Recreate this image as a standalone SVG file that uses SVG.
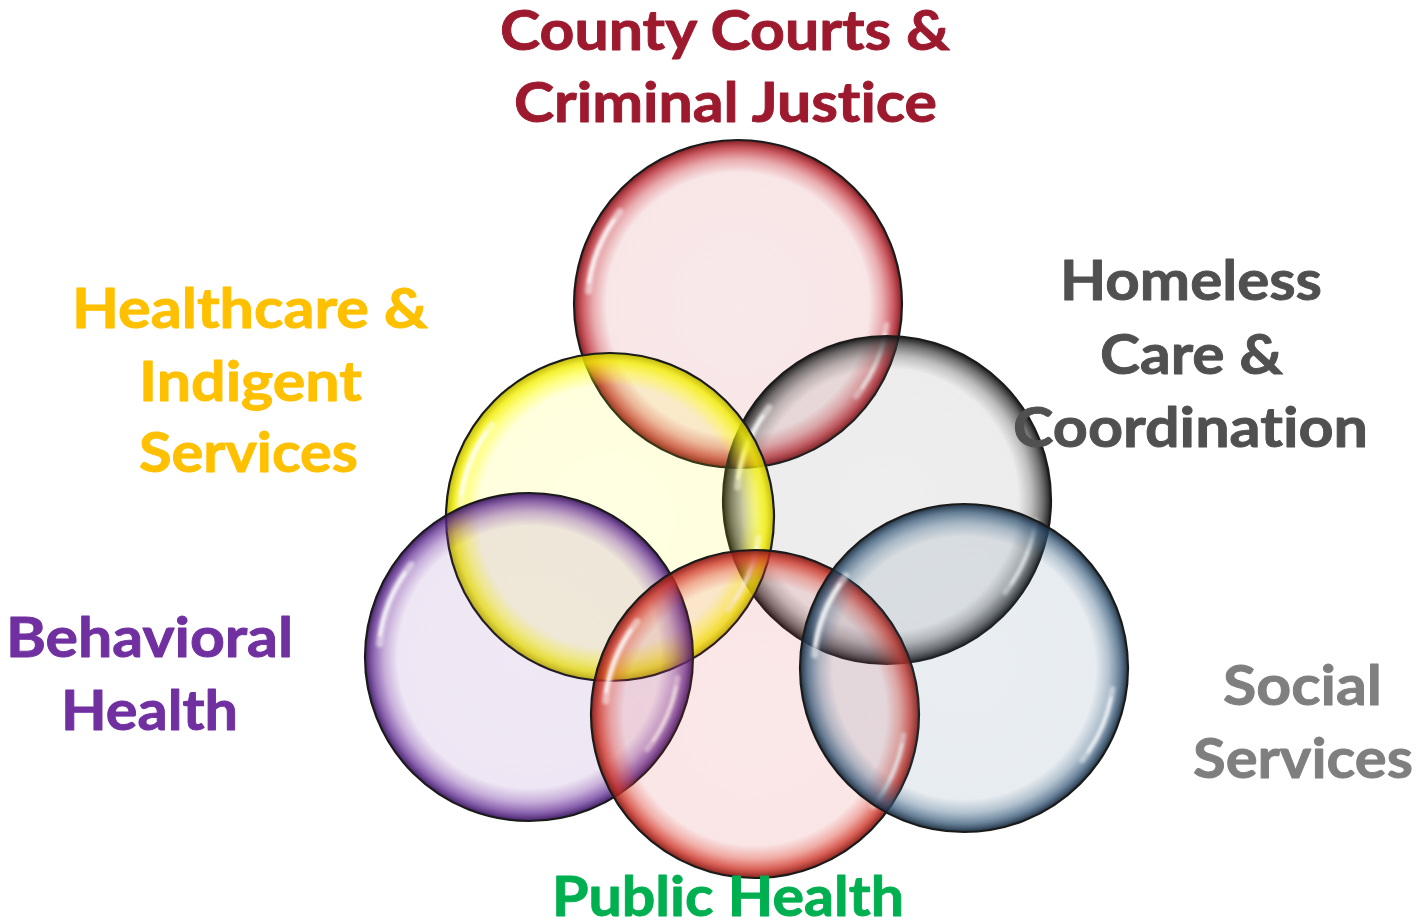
<svg xmlns="http://www.w3.org/2000/svg" xmlns:xlink="http://www.w3.org/1999/xlink" width="1419" height="923" viewBox="0 0 1419 923">
  <style>
    .ring { stroke: #1b1b1b; stroke-width: 2.2; }
    .label { font-family: Lato, "Open Sans", "Liberation Sans", sans-serif; font-weight: 700; font-size: 55px;
             font-variant-ligatures: none; font-feature-settings: "liga" 0; stroke-width: 0.9; stroke-linejoin: round; }
    .gloss { fill: none; stroke: #ffffff; stroke-linecap: round; }
  </style>
  <defs>
    <!-- glassy bubble fills: faint tint in the middle, deepening toward the rim -->
    <radialGradient id="gRed" cx="0.5" cy="0.5" r="0.5">
      <stop offset="0" stop-color="#c8323a" stop-opacity="0.11"/>
      <stop offset="0.8" stop-color="#c8323a" stop-opacity="0.12"/>
      <stop offset="0.88" stop-color="#c8323a" stop-opacity="0.4"/>
      <stop offset="0.95" stop-color="#b8222c" stop-opacity="0.75"/>
      <stop offset="1" stop-color="#7a1016" stop-opacity="0.95"/>
    </radialGradient>
    <radialGradient id="gGrey" cx="0.5" cy="0.5" r="0.5">
      <stop offset="0" stop-color="#555555" stop-opacity="0.1"/>
      <stop offset="0.8" stop-color="#555555" stop-opacity="0.11"/>
      <stop offset="0.88" stop-color="#444444" stop-opacity="0.35"/>
      <stop offset="0.95" stop-color="#333333" stop-opacity="0.7"/>
      <stop offset="1" stop-color="#111111" stop-opacity="0.95"/>
    </radialGradient>
    <radialGradient id="gYellow" cx="0.5" cy="0.5" r="0.5">
      <stop offset="0" stop-color="#ffff00" stop-opacity="0.11"/>
      <stop offset="0.8" stop-color="#ffff00" stop-opacity="0.13"/>
      <stop offset="0.88" stop-color="#ffff00" stop-opacity="0.45"/>
      <stop offset="0.95" stop-color="#f2ee00" stop-opacity="0.8"/>
      <stop offset="1" stop-color="#bcb400" stop-opacity="0.95"/>
    </radialGradient>
    <radialGradient id="gPurple" cx="0.5" cy="0.5" r="0.5">
      <stop offset="0" stop-color="#7030a0" stop-opacity="0.11"/>
      <stop offset="0.8" stop-color="#7030a0" stop-opacity="0.12"/>
      <stop offset="0.88" stop-color="#7030a0" stop-opacity="0.38"/>
      <stop offset="0.95" stop-color="#5e2890" stop-opacity="0.72"/>
      <stop offset="1" stop-color="#3a1560" stop-opacity="0.95"/>
    </radialGradient>
    <radialGradient id="gPink" cx="0.5" cy="0.5" r="0.5">
      <stop offset="0" stop-color="#d83c3c" stop-opacity="0.12"/>
      <stop offset="0.8" stop-color="#d83c3c" stop-opacity="0.13"/>
      <stop offset="0.88" stop-color="#dc4030" stop-opacity="0.42"/>
      <stop offset="0.95" stop-color="#cc3024" stop-opacity="0.78"/>
      <stop offset="1" stop-color="#801812" stop-opacity="0.95"/>
    </radialGradient>
    <radialGradient id="gBlue" cx="0.5" cy="0.5" r="0.5">
      <stop offset="0" stop-color="#3c6486" stop-opacity="0.11"/>
      <stop offset="0.8" stop-color="#3c6486" stop-opacity="0.12"/>
      <stop offset="0.88" stop-color="#3c6486" stop-opacity="0.38"/>
      <stop offset="0.95" stop-color="#2f5272" stop-opacity="0.72"/>
      <stop offset="1" stop-color="#16283a" stop-opacity="0.95"/>
    </radialGradient>
    <filter id="soft" x="-20%" y="-20%" width="140%" height="140%">
      <feGaussianBlur stdDeviation="1.6"/>
    </filter>
    <!-- specular highlights along the inner rim, centred on the origin -->
    <g id="shine" filter="url(#soft)">
      <path class="gloss" stroke-width="7" stroke-opacity="0.5" d="M -149.4 -13.1 A 150 150 0 0 1 -118.2 -92.4"/>
      <path class="gloss" stroke-width="3" stroke-opacity="0.9" d="M -149 -22 A 150 150 0 0 1 -124 -84"/>
      <path class="gloss" stroke-width="6" stroke-opacity="0.45" d="M 148.5 20.9 A 150 150 0 0 1 118.2 92.3"/>
      <path class="gloss" stroke-width="2.5" stroke-opacity="0.85" d="M 147 30 A 150 150 0 0 1 124 84"/>
    </g>
  </defs>

  <g id="county-courts">
    <circle class="ring" cx="738" cy="304" r="164" fill="url(#gRed)"/>
    <use xlink:href="#shine" href="#shine" transform="translate(738 304)"/>
    <text class="label" fill="#9d1a2e" stroke="#9d1a2e" x="500" y="50" textLength="450" lengthAdjust="spacingAndGlyphs">County Courts &amp;</text>
    <text class="label" fill="#9d1a2e" stroke="#9d1a2e" x="514" y="122" textLength="423" lengthAdjust="spacingAndGlyphs">Criminal Justice</text>
  </g>

  <g id="homeless-care">
    <circle class="ring" cx="887" cy="500" r="164" fill="url(#gGrey)"/>
    <use xlink:href="#shine" href="#shine" transform="translate(887 500)"/>
    <text class="label" fill="#505050" stroke="#505050" x="1060" y="300" textLength="262" lengthAdjust="spacingAndGlyphs">Homeless</text>
    <text class="label" fill="#505050" stroke="#505050" x="1100" y="374" textLength="183" lengthAdjust="spacingAndGlyphs">Care &amp;</text>
    <text class="label" fill="#505050" stroke="#505050" x="1013" y="447" textLength="355" lengthAdjust="spacingAndGlyphs">Coordination</text>
  </g>

  <g id="healthcare-indigent">
    <circle class="ring" cx="610" cy="517" r="164" fill="url(#gYellow)"/>
    <use xlink:href="#shine" href="#shine" transform="translate(610 517)"/>
    <text class="label" fill="#ffc000" stroke="#ffc000" x="72" y="328" textLength="356" lengthAdjust="spacingAndGlyphs">Healthcare &amp;</text>
    <text class="label" fill="#ffc000" stroke="#ffc000" x="139" y="401" textLength="223" lengthAdjust="spacingAndGlyphs">Indigent</text>
    <text class="label" fill="#ffc000" stroke="#ffc000" x="139" y="472" textLength="219" lengthAdjust="spacingAndGlyphs">Services</text>
  </g>

  <g id="behavioral-health">
    <circle class="ring" cx="529" cy="657" r="164" fill="url(#gPurple)"/>
    <use xlink:href="#shine" href="#shine" transform="translate(529 657)"/>
    <text class="label" fill="#7030a0" stroke="#7030a0" x="6" y="657" textLength="287" lengthAdjust="spacingAndGlyphs">Behavioral</text>
    <text class="label" fill="#7030a0" stroke="#7030a0" x="61" y="730" textLength="177" lengthAdjust="spacingAndGlyphs">Health</text>
  </g>

  <g id="public-health">
    <circle class="ring" cx="755" cy="714" r="164" fill="url(#gPink)"/>
    <use xlink:href="#shine" href="#shine" transform="translate(755 714)"/>
    <text class="label" fill="#00b050" stroke="#00b050" x="552" y="916" textLength="352" lengthAdjust="spacingAndGlyphs">Public Health</text>
  </g>

  <g id="social-services">
    <circle class="ring" cx="964" cy="668" r="164" fill="url(#gBlue)"/>
    <use xlink:href="#shine" href="#shine" transform="translate(964 668)"/>
    <text class="label" fill="#7f7f7f" stroke="#7f7f7f" x="1223" y="705" textLength="159" lengthAdjust="spacingAndGlyphs">Social</text>
    <text class="label" fill="#7f7f7f" stroke="#7f7f7f" x="1193" y="778" textLength="220" lengthAdjust="spacingAndGlyphs">Services</text>
  </g>

  <g id="connectors"/>
</svg>
